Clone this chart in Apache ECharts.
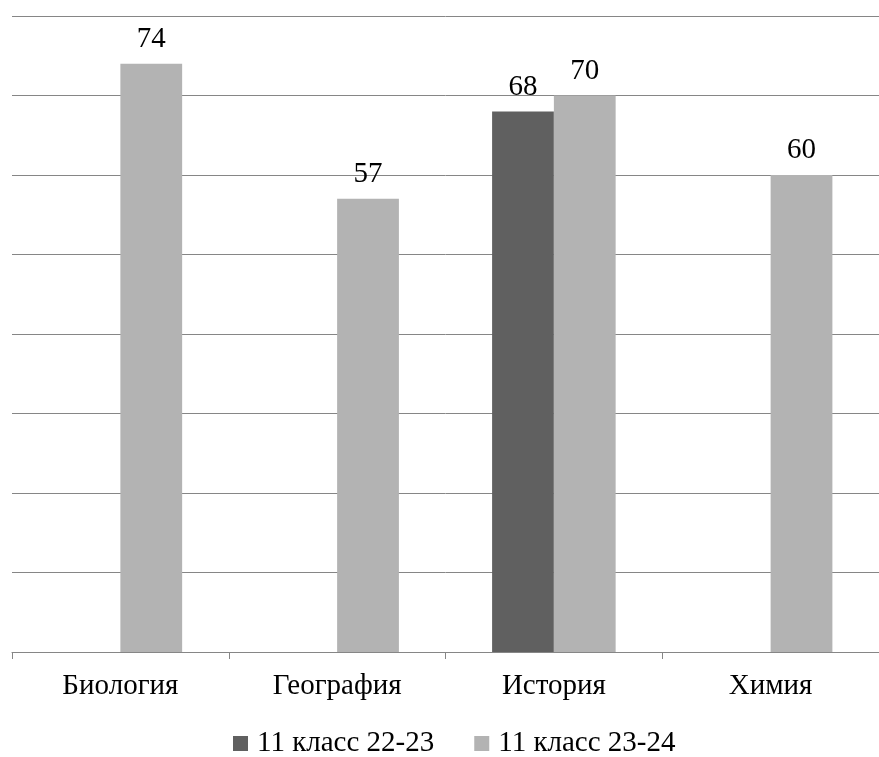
<!DOCTYPE html>
<html><head><meta charset="utf-8">
<script src="https://cdn.jsdelivr.net/npm/echarts@6/dist/echarts.min.js"></script>
<style>html,body{margin:0;padding:0;background:#fff;overflow:hidden}#c{width:879px;height:757px}</style>
</head><body><div id="c"></div>
<script>
const categories = ['Биология','География','История','Химия'];
const series1Name = '11 класс 22-23';
const series2Name = '11 класс 23-24';
const series1 = [null, null, 68, null];
const series2 = [74, 57, 70, 60];
const chart = echarts.init(document.getElementById('c'));
const font = '"Liberation Serif","Times New Roman",serif';
chart.setOption({
  animation:false,
  textStyle:{fontFamily:font},
  grid:{left:12,right:-5,top:16,bottom:105,containLabel:false},
  legend:{top:724,left:228,itemWidth:15,itemHeight:15,itemGap:40,icon:'rect',
    textStyle:{fontFamily:font,fontSize:29,color:'#000',padding:[0,0,0,4]},data:[series1Name,series2Name]},
  xAxis:{type:'category',data:categories,
    axisLine:{lineStyle:{color:'#868686',width:1}},
    axisTick:{show:true,interval:0,lineStyle:{color:'#868686'},length:7},
    axisLabel:{fontFamily:font,fontSize:29,color:'#000',margin:20,interval:0}},
  yAxis:{type:'value',min:0,max:80,interval:10,
    axisLabel:{show:false},axisLine:{show:false},axisTick:{show:false},
    splitLine:{lineStyle:{color:'#868686',width:1}}},
  series:[
    {name:series1Name,type:'bar',data:series1,barGap:'0%',barCategoryGap:'43%',
     itemStyle:{color:'#606060'},
     label:{show:true,position:'top',fontFamily:font,fontSize:29,color:'#000',distance:10}},
    {name:series2Name,type:'bar',data:series2,barGap:'0%',barCategoryGap:'43%',
     itemStyle:{color:'#b3b3b3'},
     label:{show:true,position:'top',fontFamily:font,fontSize:29,color:'#000',distance:10}}
  ]
});
</script></body></html>
